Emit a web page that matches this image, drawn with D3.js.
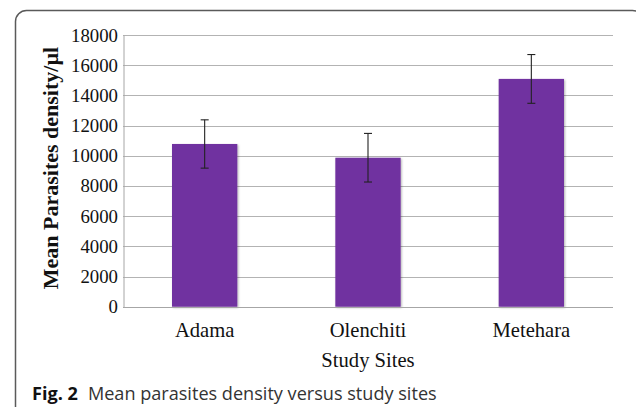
<!DOCTYPE html>
<html><head><meta charset="utf-8">
<script src="https://cdn.jsdelivr.net/npm/d3@7"></script>
<style>html,body{margin:0;padding:0;background:#fff;}svg{display:block;}</style>
</head><body><svg id="c" width="636" height="407"></svg>
<script>
const categories = ["Adama", "Olenchiti", "Metehara"];
const values = [10780, 9870, 15090];
const errors = [1600, 1610, 1615];
const yTicks = [0, 2000, 4000, 6000, 8000, 10000, 12000, 14000, 16000, 18000];

const svg = d3.select("#c");
const m = {l: 123, r: 613, t: 35, b: 306.7};

// frame
svg.append("rect").attr("x", 15.5).attr("y", 10.5).attr("width", 628).attr("height", 430)
  .attr("rx", 11).attr("fill", "none").attr("stroke", "#5a5a5a").attr("stroke-width", 1.5);

const x = d3.scaleBand().domain(categories).range([m.l, m.r]).paddingInner(0.6).paddingOuter(0.3);
const y = d3.scaleLinear().domain([0, 18000]).range([m.b, m.t]);

// gridlines
svg.append("g").selectAll("line").data(yTicks).join("line")
  .attr("x1", m.l).attr("x2", m.r)
  .attr("y1", d => Math.round(y(d)) + 0.5).attr("y2", d => Math.round(y(d)) + 0.5)
  .attr("stroke", "#b3b3b3").attr("stroke-width", 1);

// y axis
const yAxis = d3.axisLeft(y).tickValues(yTicks).tickSize(0).tickPadding(5.5).tickFormat(d3.format("d"));
const ga = svg.append("g").attr("transform", `translate(${m.l + 0.5},0)`).call(yAxis);
ga.select(".domain").attr("stroke", "#a6a6a6");
ga.selectAll("text").attr("font-family", "Liberation Serif").attr("font-size", 18.8).attr("fill", "#111");

// bars
const defs = svg.append("defs");
const f = defs.append("filter").attr("id", "sh").attr("x", "-10%").attr("y", "-10%").attr("width", "130%").attr("height", "130%");
f.append("feDropShadow").attr("dx", 1).attr("dy", 1).attr("stdDeviation", 1.2).attr("flood-color", "#000").attr("flood-opacity", 0.3);

svg.append("g").selectAll("rect").data(categories).join("rect")
  .attr("x", d => x(d)).attr("width", x.bandwidth())
  .attr("y", (d, i) => y(values[i])).attr("height", (d, i) => y(0) - y(values[i]))
  .attr("fill", "#7030a0").attr("filter", "url(#sh)");

// baseline
svg.append("line").attr("x1", m.l).attr("x2", m.r).attr("y1", Math.round(y(0)) + 0.5).attr("y2", Math.round(y(0)) + 0.5)
  .attr("stroke", "#a6a6a6");

// error bars
const eg = svg.append("g").attr("stroke", "#222").attr("stroke-width", 1.1);
categories.forEach((c, i) => {
  const cx = x(c) + x.bandwidth() / 2;
  const hi = y(values[i] + errors[i]), lo = y(values[i] - errors[i]);
  eg.append("line").attr("x1", cx).attr("x2", cx).attr("y1", hi).attr("y2", lo);
  eg.append("line").attr("x1", cx - 4).attr("x2", cx + 4).attr("y1", hi).attr("y2", hi);
  eg.append("line").attr("x1", cx - 4).attr("x2", cx + 4).attr("y1", lo).attr("y2", lo);
});

// category labels
const xAxis = d3.axisBottom(x).tickSize(0);
const gx = svg.append("g").attr("transform", `translate(0,${m.b})`).call(xAxis);
gx.select(".domain").remove();
gx.selectAll("text").attr("y", 30).attr("dy", 0)
  .attr("font-family", "Liberation Serif").attr("font-size", 20.6).attr("fill", "#111");

// axis titles
svg.append("text").attr("x", (m.l + m.r) / 2).attr("y", 366.7).attr("text-anchor", "middle")
  .attr("font-family", "Liberation Serif").attr("font-size", 20.6).attr("fill", "#111").text("Study Sites");

svg.append("text").attr("transform", `translate(58,168) rotate(-90)`).attr("text-anchor", "middle")
  .attr("font-family", "Liberation Serif").attr("font-weight", "bold").attr("font-size", 22).attr("fill", "#111")
  .text("Mean Parasites density/µl");

// caption
const cap = svg.append("text").attr("x", 32).attr("y", 400).attr("font-family", "Open Sans").attr("font-size", 18.1).attr("fill", "#333");
cap.append("tspan").attr("font-weight", "bold").attr("fill", "#111").text("Fig. 2");
cap.append("tspan").attr("dx", 10).text("Mean parasites density versus study sites");
</script></body></html>
